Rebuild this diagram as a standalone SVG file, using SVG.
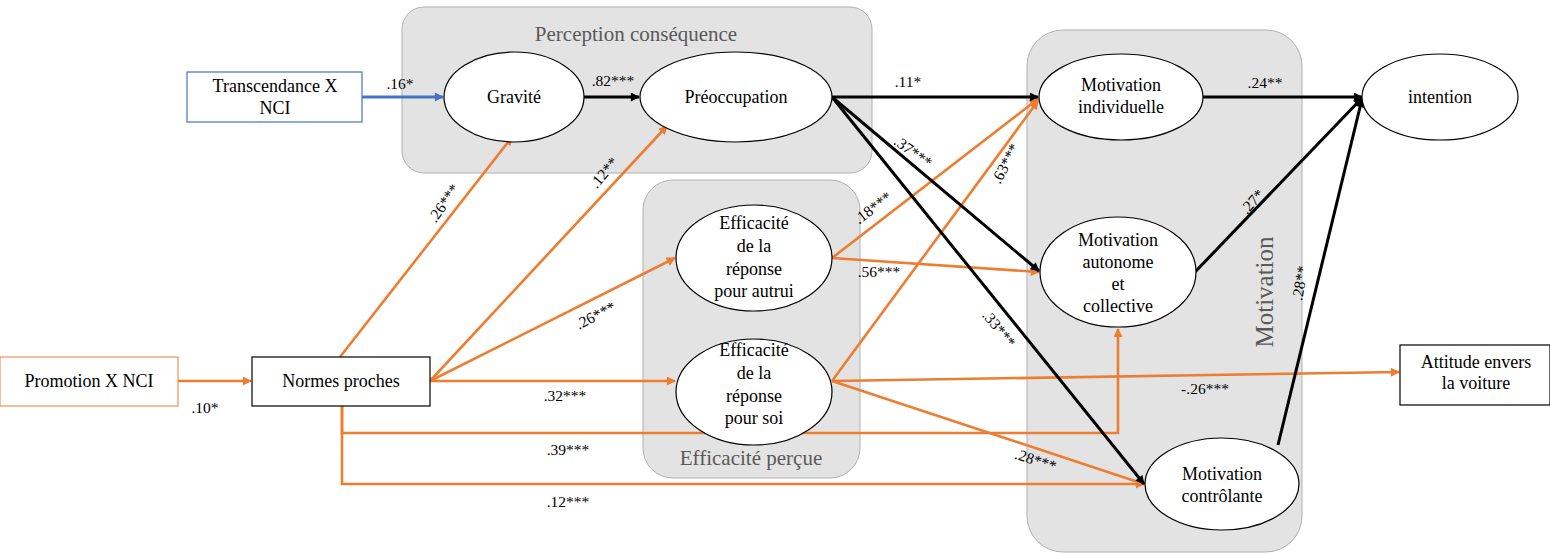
<svg xmlns="http://www.w3.org/2000/svg" width="1550" height="555" viewBox="0 0 1550 555">
<style>
.grp{fill:#e3e3e3;stroke:#b0b0b0;stroke-width:1}
.gt{font-family:"Liberation Serif","DejaVu Serif",serif;fill:#595959;font-size:21px;text-anchor:middle}
.node{fill:#fff;stroke:#000;stroke-width:1.2}
.t{font-family:"Liberation Serif","DejaVu Serif",serif;font-size:18px;fill:#000;text-anchor:middle}
.l{font-family:"Liberation Serif","DejaVu Serif",serif;font-size:15.5px;fill:#000;text-anchor:middle}
.o{stroke:#ED7D31;stroke-width:2.6;fill:none}
.k{stroke:#000;stroke-width:3;fill:none}
.b{stroke:#4472C4;stroke-width:3;fill:none}
</style>
<defs>
<marker id="ao" viewBox="0 0 10 10" refX="9" refY="5" markerWidth="10" markerHeight="9" markerUnits="userSpaceOnUse" orient="auto"><path d="M0,0 L10,5 L0,10 z" fill="#ED7D31"/></marker>
<marker id="ak" viewBox="0 0 10 10" refX="9" refY="5" markerWidth="10" markerHeight="9" markerUnits="userSpaceOnUse" orient="auto"><path d="M0,0 L10,5 L0,10 z" fill="#000"/></marker>
<marker id="ab" viewBox="0 0 10 10" refX="9" refY="5" markerWidth="10" markerHeight="9" markerUnits="userSpaceOnUse" orient="auto"><path d="M0,0 L10,5 L0,10 z" fill="#4472C4"/></marker>
</defs>
<rect width="1550" height="555" fill="#fff"/>
<g id="groups">
<rect class="grp" x="402" y="7" width="470" height="166" rx="22"/>
<text class="gt" x="636" y="41">Perception conséquence</text>
<rect class="grp" x="643" y="180" width="217" height="298" rx="30"/>
<text class="gt" x="751" y="465">Efficacité perçue</text>
<rect class="grp" x="1027" y="30" width="275" height="522" rx="36"/>
<text class="gt" style="font-size:25px" transform="translate(1273,292) rotate(-90)">Motivation</text>
</g>
<g id="connectors">
<path class="b" d="M362,97 L443,97" marker-end="url(#ab)"/>
<path class="k" d="M584,97 L639,97" marker-end="url(#ak)"/>
<path class="o" d="M178,381 L251,381" marker-end="url(#ao)"/>
<path class="o" d="M340,357 L512,137" marker-end="url(#ao)"/>
<path class="o" d="M430,381 L667,126" marker-end="url(#ao)"/>
<path class="o" d="M430,381 L675,258" marker-end="url(#ao)"/>
<path class="o" d="M430,381 L675,381" marker-end="url(#ao)"/>
<path class="o" d="M342,406 V433 H1118 V329" marker-end="url(#ao)"/>
<path class="o" d="M342,406 V484 H1144" marker-end="url(#ao)"/>
<path class="o" d="M832,258 L1038,99" marker-end="url(#ao)"/>
<path class="o" d="M832,258 L1039,272" marker-end="url(#ao)"/>
<path class="o" d="M832,381 L1038,101" marker-end="url(#ao)"/>
<path class="o" d="M832,381 L1399,372" marker-end="url(#ao)"/>
<path class="o" d="M832,381 L1144,484" marker-end="url(#ao)"/>
<path class="k" d="M832,97 L1038,97" marker-end="url(#ak)"/>
<path class="k" d="M832,97 L1039,271" marker-end="url(#ak)"/>
<path class="k" d="M832,97 L1144,484" marker-end="url(#ak)"/>
<path class="k" d="M1203,97 L1362,97" marker-end="url(#ak)"/>
<path class="k" d="M1195,272 L1362,98" marker-end="url(#ak)"/>
<path class="k" d="M1278,445 L1362,99" marker-end="url(#ak)"/>
</g>
<g id="labels">
<text class="l" x="400" y="89">.16*</text>
<text class="l" x="613" y="86">.82***</text>
<text class="l" x="205" y="413">.10*</text>
<text class="l" transform="translate(448,206) rotate(-55)">.26***</text>
<text class="l" transform="translate(608,176) rotate(-50)">.12**</text>
<text class="l" transform="translate(598,320) rotate(-27)">.26***</text>
<text class="l" x="565" y="401">.32***</text>
<text class="l" x="568" y="455">.39***</text>
<text class="l" x="568" y="507">.12***</text>
<text class="l" x="908" y="87">.11*</text>
<text class="l" transform="translate(910,156) rotate(36)">.37***</text>
<text class="l" transform="translate(876,212) rotate(-37)">.18***</text>
<text class="l" x="879" y="277">.56***</text>
<text class="l" transform="translate(1010,166) rotate(-62)">.63***</text>
<text class="l" transform="translate(995,332) rotate(51)">.33***</text>
<text class="l" transform="translate(1034,465) rotate(18)">.28***</text>
<text class="l" x="1205" y="394">-.26***</text>
<text class="l" x="1265" y="88">.24**</text>
<text class="l" transform="translate(1256,205) rotate(-48)">.27*</text>
<text class="l" transform="translate(1305,284) rotate(-80)">.28**</text>
</g>
<g id="n-transcendance">
<rect x="187" y="72" width="175" height="50" fill="#fff" stroke="#4472C4" stroke-width="1.2"/>
<text class="t" x="275" y="92">Transcendance X</text>
<text class="t" x="275" y="114">NCI</text>
</g>
<g id="n-gravite">
<ellipse class="node" cx="514" cy="97" rx="70" ry="45"/>
<text class="t" x="514" y="103">Gravité</text>
</g>
<g id="n-preoccupation">
<ellipse class="node" cx="736" cy="97" rx="96" ry="45"/>
<text class="t" x="736" y="103">Préoccupation</text>
</g>
<g id="n-promotion">
<rect x="0" y="357" width="178" height="49" fill="#fff" stroke="#ED7D31" stroke-width="1"/>
<text class="t" x="89" y="387">Promotion X NCI</text>
</g>
<g id="n-normes">
<rect x="252" y="357" width="178" height="49" fill="#fff" stroke="#000" stroke-width="1.2"/>
<text class="t" x="341" y="387">Normes proches</text>
</g>
<g id="n-eff-autrui">
<ellipse class="node" cx="754" cy="258" rx="78" ry="53"/>
<text class="t" x="754" y="229">Efficacité</text>
<text class="t" x="754" y="252">de la</text>
<text class="t" x="754" y="275">réponse</text>
<text class="t" x="754" y="297">pour autrui</text>
</g>
<g id="n-eff-soi">
<ellipse class="node" cx="754" cy="392" rx="78" ry="53"/>
<text class="t" x="754" y="356">Efficacité</text>
<text class="t" x="754" y="379">de la</text>
<text class="t" x="754" y="402">réponse</text>
<text class="t" x="754" y="424">pour soi</text>
</g>
<g id="n-mot-indiv">
<ellipse class="node" cx="1121" cy="97" rx="82" ry="43"/>
<text class="t" x="1121" y="91">Motivation</text>
<text class="t" x="1121" y="113">individuelle</text>
</g>
<g id="n-mot-auto">
<ellipse class="node" cx="1118" cy="272" rx="78" ry="55"/>
<text class="t" x="1118" y="246">Motivation</text>
<text class="t" x="1118" y="268">autonome</text>
<text class="t" x="1118" y="290">et</text>
<text class="t" x="1118" y="312">collective</text>
</g>
<g id="n-mot-ctrl">
<ellipse class="node" cx="1222" cy="484" rx="77" ry="46"/>
<text class="t" x="1222" y="480">Motivation</text>
<text class="t" x="1222" y="502">contrôlante</text>
</g>
<g id="n-intention">
<ellipse class="node" cx="1440" cy="97" rx="78" ry="43"/>
<text class="t" x="1440" y="103">intention</text>
</g>
<g id="n-attitude">
<rect x="1400" y="345" width="150" height="60" fill="#fff" stroke="#000" stroke-width="1.2"/>
<text class="t" x="1476" y="368">Attitude envers</text>
<text class="t" x="1476" y="389">la voiture</text>
</g>
</svg>
